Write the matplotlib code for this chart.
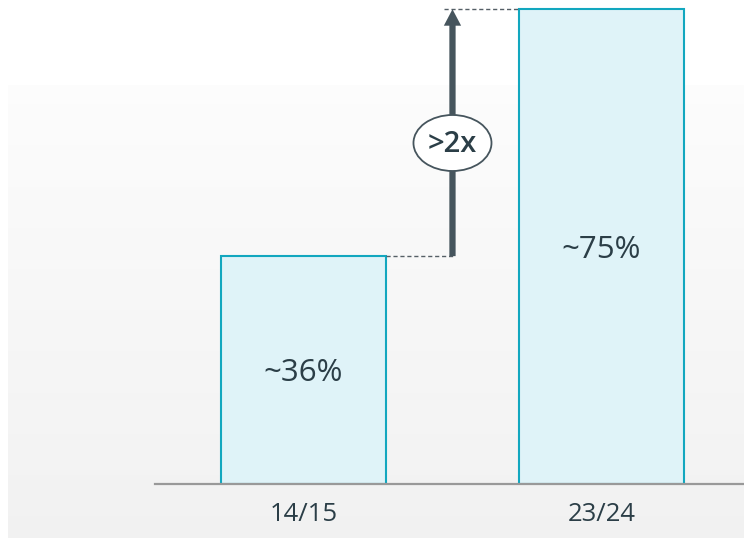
import matplotlib.pyplot as plt
import numpy as np
from matplotlib.patches import Ellipse

# data
periods = ["14/15", "23/24"]
shares = [36, 75]
share_labels = ["~36%", "~75%"]
growth_label = ">2x"

plt.rcParams['font.family'] = ['Open Sans', 'DejaVu Sans']

W, H = 744, 538
fig = plt.figure(figsize=(W / 100, H / 100), dpi=100)

# light grey gradient panel behind the chart
bg = fig.add_axes([8 / W, 0, 1 - 8 / W, 1 - 85 / H], zorder=0)
grad = np.linspace(0.99, 0.947, 256).reshape(-1, 1)
bg.imshow(np.dstack([grad, grad, grad]), aspect='auto', extent=[0, 1, 0, 1])
bg.axis('off')

ax = fig.add_axes([155 / W, 1 - 484 / H, 1 - 155 / W, 484 / H], zorder=1)
ax.patch.set_alpha(0)

x = np.arange(len(periods))
bar_w = 0.554
ax.bar(x, shares, width=bar_w, color='#dff3f8', edgecolor='#12a7bf', linewidth=1.5, zorder=2)

text_col = '#2b3e47'
for xi, v, lab in zip(x, shares, share_labels):
    ax.text(xi, v / 2 - 0.5, lab, ha='center', va='center', fontsize=22.5, color=text_col, zorder=3)

ax.set_xlim(-0.498, 1.478)
ax.set_ylim(0, 76.46)
ax.set_xticks(x)
ax.set_xticklabels(periods, fontsize=18.5, color=text_col)
ax.tick_params(axis='x', length=0, pad=13)
ax.set_yticks([])
for s in ['top', 'right', 'left']:
    ax.spines[s].set_visible(False)
ax.spines['bottom'].set_color('#999999')
ax.spines['bottom'].set_linewidth(1.6)

# growth arrow with dashed guides
ax_x = 0.5
dash_col = '#555f66'
ax.plot([x[0] + bar_w / 2, ax_x + 0.01], [shares[0], shares[0]], ls=(0, (3, 2)), lw=1, color=dash_col, zorder=3)
ax.plot([ax_x - 0.03, x[1] - bar_w / 2], [shares[1], shares[1]], ls=(0, (3, 2)), lw=1, color=dash_col, zorder=3)
ax.arrow(ax_x, shares[0], 0, shares[1] - shares[0], width=0.021, head_width=0.058,
         head_length=2.6, length_includes_head=True, color='#46555d', lw=0, zorder=4)

ell_y = (484 - 143) / 6.33
ell = Ellipse((ax_x, ell_y), width=78 / 298, height=56 / 6.33, facecolor='white',
              edgecolor='#46555d', lw=1.3, zorder=5)
ax.add_patch(ell)
ax.text(ax_x, ell_y - 0.2, growth_label, ha='center', va='center', fontsize=21, fontweight='semibold',
        color=text_col, zorder=6)

fig.savefig('out.png', dpi=100)
